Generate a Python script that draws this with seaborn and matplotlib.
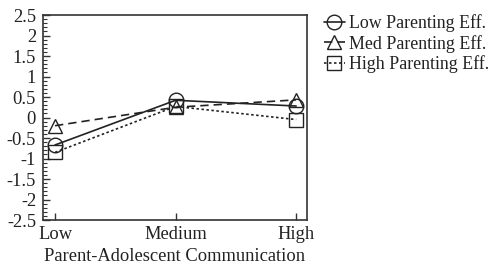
import matplotlib
matplotlib.use("Agg")
import matplotlib.pyplot as plt
import seaborn as sns
import pandas as pd
from matplotlib.ticker import MultipleLocator

categories = ["Low", "Medium", "High"]
low_eff = [-0.67, 0.42, 0.28]
med_eff = [-0.20, 0.25, 0.43]
high_eff = [-0.85, 0.27, -0.05]
series_names = ["Low Parenting Eff.", "Med Parenting Eff.", "High Parenting Eff."]

sns.set_theme(style="ticks")
plt.rcParams["font.family"] = ["Liberation Serif", "DejaVu Serif"]
FS = 13.3
plt.rcParams["font.size"] = FS

fig = plt.figure(figsize=(4.92, 2.64), dpi=100)
ax = fig.add_axes([43/492, 1-220/264, (307-43)/492, (220-15)/264])

pos = list(range(len(categories)))
styles = [
    dict(marker="o", linestyle="-"),
    dict(marker="^", linestyle=(0, (5, 3))),
    dict(marker="s", linestyle=(0, (1.5, 1.5))),
]
for vals, name, st in zip([low_eff, med_eff, high_eff], series_names, styles):
    df = pd.DataFrame({"x": pos, "y": vals})
    sns.lineplot(data=df, x="x", y="y", ax=ax, color="#222222", label=name,
                 marker=st["marker"], linestyle=st["linestyle"], linewidth=1.2,
                 markersize=10.5, markerfacecolor="none", markeredgecolor="#222222",
                 markeredgewidth=1.0)

ax.set_xlim(-0.1, 2.09)
ax.set_ylim(-2.5, 2.5)
ax.set_xticks(pos)
ax.set_xticklabels(categories)
ax.yaxis.set_major_locator(MultipleLocator(0.5))
ax.yaxis.set_minor_locator(MultipleLocator(0.1))
ax.set_yticklabels([("%g" % v) for v in ax.get_yticks()])
ax.tick_params(axis="both", which="major", direction="in", length=5, width=1,
               color="#333333", labelsize=FS, labelcolor="#222222")
ax.tick_params(axis="y", which="major", pad=5)
ax.tick_params(axis="y", which="minor", direction="in", length=3, width=0.8, color="#333333")
ax.tick_params(axis="x", which="major", pad=4)
for sp in ax.spines.values():
    sp.set_color("#333333")
    sp.set_linewidth(1.2)
ax.set_xlabel("Parent-Adolescent Communication", fontsize=FS, color="#222222", labelpad=4)
ax.set_ylabel("")

leg = ax.legend(loc="upper left", bbox_to_anchor=(1.015, 1.065), frameon=False,
                handlelength=1.2, handletextpad=0.25, labelspacing=0.15,
                fontsize=12.9, borderaxespad=0.3)
for t in leg.get_texts():
    t.set_color("#222222")

fig.savefig("out.png", dpi=100)
